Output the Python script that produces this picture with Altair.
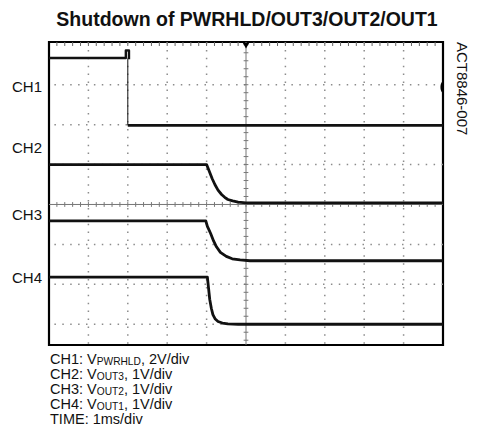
import altair as alt
import pandas as pd

# ---------------- data (time and level in scope divisions) ----------------
ch1_hi_t = [0.0, 1.95, 1.95, 2.03, 2.03]
ch1_hi_v = [3.67, 3.67, 3.86, 3.86, 3.64]
ch1_edge_t = [2.0, 2.0]
ch1_edge_v = [3.64, 1.98]
ch1_lo_t = [2.0, 10.0]
ch1_lo_v = [1.98, 1.98]

ch2_t = [0.0, 4.0, 4.04, 4.08, 4.14, 4.21, 4.29, 4.38, 4.46, 4.54, 4.66, 4.8, 5.0, 10.0]
ch2_v = [1.0, 1.0, 0.9, 0.80, 0.65, 0.50, 0.36, 0.25, 0.18, 0.125, 0.09, 0.06, 0.04, 0.04]

ch3_t = [0.0, 3.98, 4.02, 4.1, 4.18, 4.25, 4.35, 4.5, 4.65, 4.85, 5.1, 10.0]
ch3_v = [-0.41, -0.41, -0.55, -0.72, -0.92, -1.06, -1.2, -1.3, -1.36, -1.39, -1.41, -1.41]

ch4_t = [0.0, 4.02, 4.05, 4.08, 4.12, 4.16, 4.22, 4.29, 4.4, 4.54, 4.8, 10.0]
ch4_v = [-1.82, -1.82, -2.1, -2.38, -2.6, -2.76, -2.87, -2.93, -2.97, -2.99, -3.0, -3.0]

ch_labels = ["CH1", "CH2", "CH3", "CH4"]
ch_label_levels = [2.94, 1.42, -0.26, -1.83]
ch1_trigger_level = 2.94
trigger_time = 5.0

grid_x = [1, 2, 3, 4, 6, 7, 8, 9]
grid_y = [-3, -2, -1, 1, 2, 3]
center_x = 5.0
center_y = 0.0

title_text = "Shutdown of PWRHLD/OUT3/OUT2/OUT1"
side_text = "ACT8846-007"
caption_main = ["CH1: V", "CH2: V", "CH3: V", "CH4: V", "TIME: 1ms/div"]
caption_sub = ["PWRHLD", "OUT3", "OUT2", "OUT1", ""]
caption_rest = [", 2V/div", ", 1V/div", ", 1V/div", ", 1V/div", ""]

# ---------------- layout ----------------
W, H = 394, 303
X_DOM = [0, 10]
Y_DOM = [-3.52, 4.07]
FONT = "Liberation Sans"
CAP_FS = 14.5
SUB_FS = 10.2

xs = alt.Scale(domain=X_DOM, nice=False, zero=False)
ys = alt.Scale(domain=Y_DOM, nice=False, zero=False)

# Arial/Liberation Sans advance widths (per 1000 em)
AW = {"C": 722, "H": 722, "1": 556, "2": 556, "3": 556, "4": 556, ":": 278, " ": 278,
      "V": 667, "P": 667, "W": 944, "R": 722, "L": 556, "D": 722, "O": 778, "U": 722,
      "T": 611, ",": 278, "/": 278, "d": 556, "i": 222, "v": 500, "I": 278, "M": 833,
      "E": 667, "m": 833, "s": 500}


def tw(s, size):
    return sum(AW.get(c, 556) for c in s) / 1000.0 * size


# ---------------- trace table ----------------
rows = []
def add(ch, seg, ts, vs, w):
    for i, (t, v) in enumerate(zip(ts, vs)):
        rows.append({"ch": ch, "seg": seg, "i": i, "t": t, "v": v, "w": w})

add("CH1", "hi", ch1_hi_t, ch1_hi_v, 2.4)
add("CH1", "edge", ch1_edge_t, ch1_edge_v, 1.0)
add("CH1", "lo", ch1_lo_t, ch1_lo_v, 2.8)
add("CH2", "a", ch2_t, ch2_v, 2.8)
add("CH3", "a", ch3_t, ch3_v, 2.8)
add("CH4", "a", ch4_t, ch4_v, 2.8)
traces_df = pd.DataFrame(rows)
traces_df["key"] = traces_df["ch"] + "_" + traces_df["seg"]

base_x = alt.X("t:Q", scale=xs, axis=None)
base_y = alt.Y("v:Q", scale=ys, axis=None)

dot_style = dict(color="#8c8c8c", strokeWidth=1.5, strokeDash=[1.5, 6.4])

gx = alt.Chart(pd.DataFrame({"t": grid_x})).mark_rule(**dot_style).encode(x=base_x)
gy = alt.Chart(pd.DataFrame({"v": grid_y})).mark_rule(**dot_style).encode(y=base_y)

cx = alt.Chart(pd.DataFrame({"t": [center_x]})).mark_rule(color="#777", strokeWidth=1).encode(x=base_x)
cy = alt.Chart(pd.DataFrame({"v": [center_y]})).mark_rule(color="#777", strokeWidth=1).encode(y=base_y)

minor_t = [round(0.2 * k, 2) for k in range(1, 50)]
minor_v = [round(-3.4 + 0.2 * k, 2) for k in range(0, 38)]

tick_h = alt.Chart(pd.DataFrame({"t": minor_t, "a": [center_y - 0.06] * len(minor_t),
                                 "b": [center_y + 0.06] * len(minor_t)})).mark_rule(
    color="#777", strokeWidth=1).encode(x=base_x, y=alt.Y("a:Q", scale=ys, axis=None), y2="b:Q")
tick_v = alt.Chart(pd.DataFrame({"v": minor_v, "a": [center_x - 0.06] * len(minor_v),
                                 "b": [center_x + 0.06] * len(minor_v)})).mark_rule(
    color="#777", strokeWidth=1).encode(y=base_y, x=alt.X("a:Q", scale=xs, axis=None), x2="b:Q")
tick_top = alt.Chart(pd.DataFrame({"t": minor_t, "a": [Y_DOM[1]] * len(minor_t),
                                   "b": [Y_DOM[1] - 0.1] * len(minor_t)})).mark_rule(
    color="#666", strokeWidth=1).encode(x=base_x, y=alt.Y("a:Q", scale=ys, axis=None), y2="b:Q")

lines = alt.Chart(traces_df).mark_line(color="#111", strokeCap="butt", strokeJoin="round").encode(
    x=base_x, y=base_y, detail="key:N", order="i:Q",
    strokeWidth=alt.StrokeWidth("w:Q", scale=None))

labels = alt.Chart(pd.DataFrame({"lab": ch_labels, "v": ch_label_levels})).mark_text(
    font=FONT, fontSize=15, align="right", baseline="middle", color="#111").encode(
    x=alt.value(-7), y=base_y, text="lab:N")

trig_top = alt.Chart(pd.DataFrame({"t": [trigger_time], "v": [Y_DOM[1] - 0.09]})).mark_point(
    shape="triangle-down", filled=True, color="#000", size=45, opacity=1).encode(x=base_x, y=base_y)

half_disc = "M0,-1 A0.45,1 0 0,0 0,1 Z"
trig_side = alt.Chart(pd.DataFrame({"t": [X_DOM[1]], "v": [ch1_trigger_level]})).mark_point(
    shape=half_disc, filled=True, color="#000", size=130, opacity=1).encode(x=base_x, y=base_y)

one = pd.DataFrame({"k": [0]})
texts = []
texts.append(alt.Chart(one).mark_text(text=title_text, font=FONT, fontSize=19.5, fontWeight="bold",
                                      align="center", baseline="alphabetic", color="#111").encode(
    x=alt.value(W / 2 + 1), y=alt.value(-16)))
texts.append(alt.Chart(one).mark_text(text=side_text, font=FONT, fontSize=15, angle=90,
                                      align="left", baseline="middle", color="#111").encode(
    x=alt.value(W + 19), y=alt.value(0)))

cap_x0 = 1
cap_y0 = 322
cap_dy = 15.1
for k in range(len(caption_main)):
    y = cap_y0 + k * cap_dy
    texts.append(alt.Chart(one).mark_text(text=caption_main[k], font=FONT, fontSize=CAP_FS, align="left",
                                          baseline="alphabetic", color="#111").encode(
        x=alt.value(cap_x0), y=alt.value(y)))
    x1 = cap_x0 + tw(caption_main[k], CAP_FS)
    if caption_sub[k]:
        texts.append(alt.Chart(one).mark_text(text=caption_sub[k], font=FONT, fontSize=SUB_FS,
                                              align="left", baseline="alphabetic", color="#111").encode(
            x=alt.value(x1), y=alt.value(y + 1)))
        x2 = x1 + tw(caption_sub[k], SUB_FS)
        texts.append(alt.Chart(one).mark_text(text=caption_rest[k], font=FONT, fontSize=CAP_FS,
                                              align="left", baseline="alphabetic", color="#111").encode(
            x=alt.value(x2), y=alt.value(y)))

chart = alt.layer(gx, gy, cx, cy, tick_h, tick_v, tick_top, lines, labels, trig_top, trig_side,
                  *texts).properties(
    width=W, height=H,
    autosize=alt.AutoSizeParams(type="none"),
    padding={"left": 41, "top": 34, "right": 27, "bottom": 83},
    background="white",
).configure_view(stroke="#000", strokeWidth=2.2)

chart.save("out.html", embed_options={"renderer": "svg", "actions": False})
